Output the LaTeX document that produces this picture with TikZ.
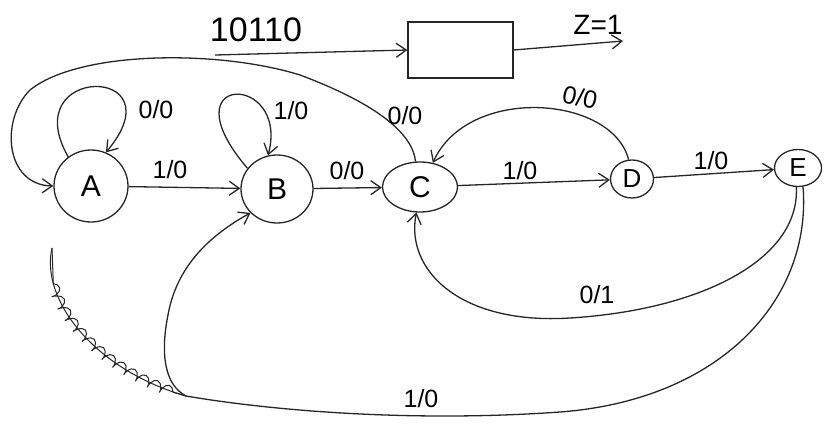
\documentclass[tikz,border=0pt]{standalone}
\usepackage{fontspec}
\setmainfont{Liberation Sans}
\usetikzlibrary{arrows.meta,shapes.geometric,decorations.pathmorphing}
\tikzset{
  ln/.style={line width=0.65pt, draw=black!85},
  arr/.style={ln, -{Straight Barb[length=5pt,width=7pt,line width=0.65pt]}},
  st/.style={ln, ellipse, inner sep=0pt, font=\fontsize{15}{17}\selectfont},
  lbl/.style={font=\fontsize{12.5}{14}\selectfont, inner sep=0pt},
}
\begin{document}
\begin{tikzpicture}[x=0.5pt,y=-0.5pt]
\useasboundingbox (0,0) rectangle (824,423);
% states
\node[st, minimum width=37pt, minimum height=36pt] (A) at (91,186) {A};
\node[st, minimum width=36pt, minimum height=34pt] (B) at (277,189) {B};
\node[st, minimum width=37.5pt, minimum height=25pt] (C) at (420,187) {C};
\node[st, minimum width=21.5pt, minimum height=19pt, font=\fontsize{13}{15}\selectfont] (D) at (632,179) {D};
\node[st, minimum width=23.5pt, minimum height=18.5pt, font=\fontsize{13}{15}\selectfont] (E) at (798,168) {E};
% block
\node[ln, draw, rectangle, minimum width=52.5pt, minimum height=28pt, inner sep=0pt] (box) at (460.5,50) {};
\coordinate (in) at (215,55);
\coordinate (out) at (623,41);
\draw[arr] (in) -- (box.west);
\draw[arr] (box.east) -- (out);
\node[lbl, font=\fontsize{17}{19}\selectfont] (seq) at (256,30) {10110};
\node[lbl, font=\fontsize{14}{16}\selectfont] (z) at (598,25) {Z=1};
% self loops
\draw[arr] (A.128) .. controls (15,64) and (180,64) .. (A.66);
\node[lbl] (lAA) at (156,110) {0/0};
\draw[arr] (B.145) .. controls (165,72) and (290,72) .. (B.105);
\node[lbl] (lBB) at (291,111) {1/0};
% straight transitions
\draw[arr] (A) -- (B);
\node[lbl] (lAB) at (170,170) {1/0};
\draw[arr] (B) -- (C);
\node[lbl] (lBC) at (347,171) {0/0};
\draw[arr] (C) -- (D);
\node[lbl] (lCD) at (520,171) {1/0};
\draw[arr] (D) -- (E);
\node[lbl] (lDE) at (711,161) {1/0};
% C -> A big arc over the top
\draw[arr] (C.100) .. controls (413,135) and (380,105) .. (300,75)
  .. controls (220,50) and (80,50) .. (30,90)
  .. controls (0,120) and (5,185) .. (A.west);
\node[lbl] (lCA) at (405,116) {0/0};
% D -> C arc
\draw[arr] (D.100) .. controls (612,95) and (468,85) .. (C.62);
\node[lbl, rotate=-12] (lDC) at (580,97) {0/0};
% E -> C arc below
\draw[arr] (E.265) .. controls (800,260) and (700,310) .. (570,318)
  .. controls (460,325) and (405,270) .. (C.262);
\node[lbl] (lEC) at (597,295) {0/1};
% E -> B long arc
\coordinate (cusp) at (186,396);
\draw[ln] (E.285) .. controls (812,300) and (720,400) .. (560,412)
  .. controls (420,422) and (280,412) .. (cusp);
\draw[arr] (cusp) .. controls (165,385) and (160,355) .. (168,315)
  .. controls (176,270) and (205,238) .. (B.222);
\node[lbl] (lEB) at (421,399) {1/0};
% scribbled-out stroke
\coordinate (s0) at (52,248);
\draw[ln, line width=0.5pt] (s0) .. controls (40,300) and (95,370) .. (cusp);
\draw[ln, line width=0.5pt, decorate, decoration={coil, amplitude=2.5pt, segment length=6.5pt, aspect=0.5, pre length=18pt, post length=4pt}]
  (s0) .. controls (40,300) and (95,370) .. (cusp);
\end{tikzpicture}
\end{document}
